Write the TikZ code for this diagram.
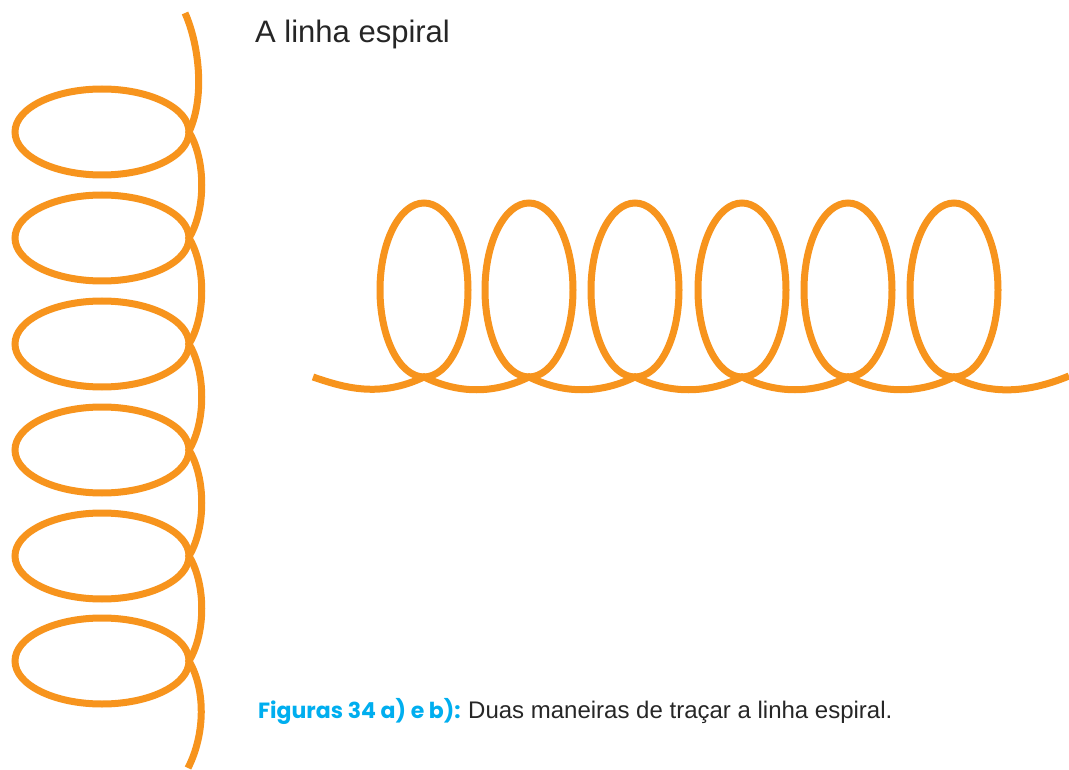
\documentclass[tikz,border=0pt]{standalone}
\usepackage{fontspec}
\setmainfont{Liberation Sans}
\newfontfamily\figfont{Poppins}
\definecolor{spiralorange}{RGB}{247,148,29}
\definecolor{figcyan}{RGB}{0,174,239}

\begin{document}
\begin{tikzpicture}[x=1pt, y=-1pt,
    spiral/.style={draw=spiralorange, line width=7pt}]
      \useasboundingbox (0,0) rectangle (1069,770);

      % a) vertical
      \draw[spiral] (102,132) ellipse [x radius=87, y radius=43];
      \draw[spiral] (102,238) ellipse [x radius=87, y radius=43];
      \draw[spiral] (102,344) ellipse [x radius=87, y radius=43];
      \draw[spiral] (102,450) ellipse [x radius=87, y radius=43];
      \draw[spiral] (102,556) ellipse [x radius=87, y radius=43];
      \draw[spiral] (102,661) ellipse [x radius=87, y radius=43];
      \draw[spiral] (185,13) .. controls (198,42) and (206,95) .. (189,132)
        .. controls (206,160) and (206,210) .. (189,238)
        .. controls (206,266) and (206,316) .. (189,344)
        .. controls (206,372) and (206,422) .. (189,450)
        .. controls (206,478) and (206,528) .. (189,556)
        .. controls (206,584) and (206,633) .. (189,661)
        .. controls (206,690) and (205,735) .. (188,768);

      % b) horizontal
      \draw[spiral] (424,290) ellipse [x radius=44, y radius=87];
      \draw[spiral] (529,290) ellipse [x radius=44, y radius=87];
      \draw[spiral] (635,290) ellipse [x radius=44, y radius=87];
      \draw[spiral] (742,290) ellipse [x radius=44, y radius=87];
      \draw[spiral] (848,290) ellipse [x radius=44, y radius=87];
      \draw[spiral] (954,290) ellipse [x radius=44, y radius=87];
      \draw[spiral] (313,377) .. controls (345,388) and (380,398) .. (424,377)
        .. controls (459,394) and (494,394) .. (529,377)
        .. controls (564,394) and (600,394) .. (635,377)
        .. controls (670,394) and (707,394) .. (742,377)
        .. controls (777,394) and (813,394) .. (848,377)
        .. controls (883,394) and (919,394) .. (954,377)
        .. controls (995,398) and (1035,390) .. (1069,376);

      \node[anchor=base west, inner sep=0, font=\fontsize{31}{36}\selectfont, text=black!85] (title) at (255,43) {A linha espiral};
      \node[anchor=base west, inner sep=0, font=\figfont\bfseries\fontsize{22}{26}\selectfont, text=figcyan] (figlabel) at (258,718) {Figuras 34 a) e b):};
      \node[anchor=base west, inner sep=0, font=\fontsize{24}{28}\selectfont, text=black!85] (figcaption) at (468,718) {Duas maneiras de traçar a linha espiral.};

    \end{tikzpicture}
\end{document}
